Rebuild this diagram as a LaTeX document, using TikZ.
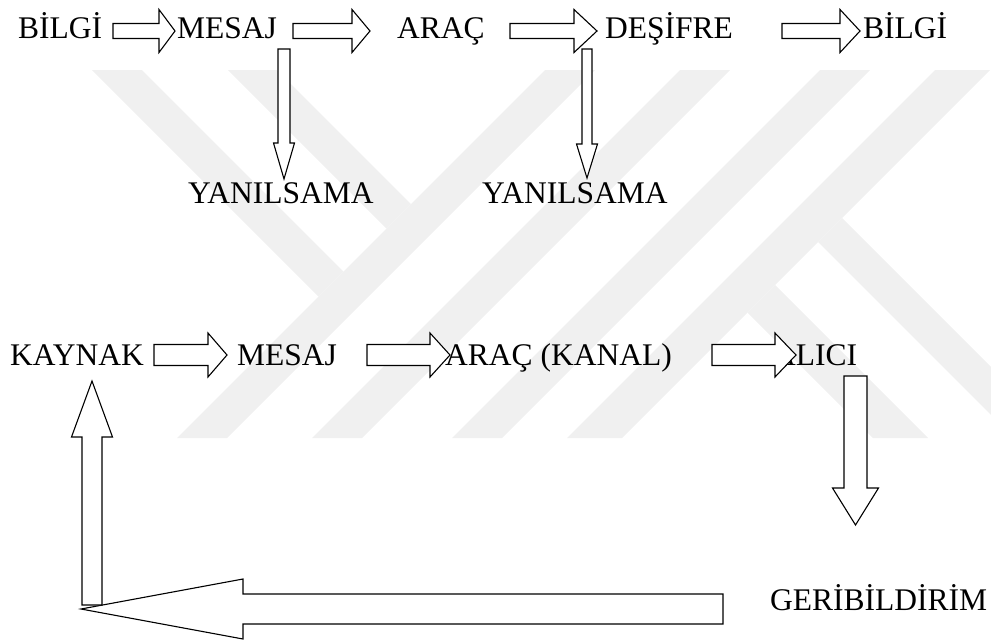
\documentclass[tikz,border=0pt]{standalone}
\usepackage{fontspec}
\setmainfont{Liberation Serif}
\usetikzlibrary{calc}

\begin{document}
\begin{tikzpicture}
[
x=1pt,y=-1pt,
lbl/.style={anchor=base west,inner sep=0pt,font=\fontsize{31.5}{36}\selectfont},
wmark/.style={fill=black!6},
blockarrow/.style n args={3}{% shaft half width, head half width, head length
            draw,fill=white,line width=1.1pt,line join=miter,
            to path={
                        ($(\tikztotarget)!#3!(\tikztostart)$) coordinate (bh)
                        ($(\tikztostart)!#1!90:(\tikztotarget)$) -- ($(bh)!#1!90:(\tikztotarget)$)
                        -- ($(bh)!#2!90:(\tikztotarget)$) -- (\tikztotarget)
                        -- ($(bh)!#2!-90:(\tikztotarget)$) -- ($(bh)!#1!-90:(\tikztotarget)$)
                        -- ($(\tikztostart)!#1!-90:(\tikztotarget)$) -- cycle
            }
},
]
\useasboundingbox (0,0) rectangle (991,641);

%Watermark
\fill[wmark] (92,70) -- (142,70) -- (343.5,271.5) -- (318.5,296.5) -- cycle;
\fill[wmark] (228,70) -- (277,70) -- (411,204) -- (386.5,228.5) -- cycle;
\fill[wmark] (545,70) -- (595,70) -- (227,438) -- (177,438) -- cycle;
\fill[wmark] (680,70) -- (730,70) -- (362,438) -- (312,438) -- cycle;
\fill[wmark] (820,70) -- (870,70) -- (502,438) -- (452,438) -- cycle;
\fill[wmark] (935,70) -- (990,70) -- (622,438) -- (567,438) -- cycle;
\fill[wmark] (842,218) -- (991,367) -- (991,415) -- (818,242) -- cycle;
\fill[wmark] (775,285) -- (928,438) -- (873,438) -- (747.5,312.5) -- cycle;

%Place the nodes
\node[lbl] (bilgiA) at (18,38.5) {BİLGİ};
\node[lbl] (mesajA) at (177,38.5) {MESAJ};
\node[lbl] (aracA) at (397,38.5) {ARAÇ};
\node[lbl] (desifre) at (605,38.5) {DEŞİFRE};
\node[lbl] (bilgiB) at (863,38.5) {BİLGİ};
\node[lbl] (yanilsamaA) at (188,203) {YANILSAMA};
\node[lbl] (yanilsamaB) at (482,203) {YANILSAMA};
\node[lbl] (kaynak) at (10,365) {KAYNAK};
\node[lbl] (mesajB) at (237,365) {MESAJ};
\node[lbl] (kanal) at (445,365) {ARAÇ (KANAL)};
\node[lbl] (alici) at (773,365) {ALICI};
\node[lbl] (geri) at (770,610) {GERİBİLDİRİM};

%Arrow ends
\coordinate (r1a) at (113,31);
\coordinate (r1b) at (175,31);
\coordinate (r2a) at (293,31);
\coordinate (r2b) at (370,31);
\coordinate (r3a) at (510,31);
\coordinate (r3b) at (597,31);
\coordinate (r4a) at (782,31);
\coordinate (r4b) at (860,31);
\coordinate (d1a) at (284,49);
\coordinate (d1b) at (284,179);
\coordinate (d2a) at (587,49);
\coordinate (d2b) at (587,178);
\coordinate (k1a) at (154,355);
\coordinate (k1b) at (227,355);
\coordinate (k2a) at (367,355);
\coordinate (k2b) at (450,355);
\coordinate (k3a) at (712,355);
\coordinate (k3b) at (796,355);
\coordinate (fa) at (855.5,376);
\coordinate (fb) at (855.5,525);
\coordinate (ga) at (723,609);
\coordinate (gb) at (81,609);
\coordinate (ua) at (92,605);
\coordinate (ub) at (92,381);

%Draw the connections
\draw[blockarrow={7.5pt}{21.5pt}{16pt}] (r1a) to (r1b);
\draw[blockarrow={7.5pt}{21.5pt}{18pt}] (r2a) to (r2b);
\draw[blockarrow={7.5pt}{21.5pt}{23pt}] (r3a) to (r3b);
\draw[blockarrow={7.5pt}{21.5pt}{20pt}] (r4a) to (r4b);
\draw[blockarrow={6pt}{10.5pt}{36pt}] (d1a) to (d1b);
\draw[blockarrow={5pt}{10.5pt}{34pt}] (d2a) to (d2b);
\draw[blockarrow={10.5pt}{22pt}{19pt}] (k1a) to (k1b);
\draw[blockarrow={10.5pt}{22pt}{20pt}] (k2a) to (k2b);
\draw[blockarrow={10.5pt}{22pt}{21pt}] (k3a) to (k3b);
\draw[blockarrow={11.5pt}{23pt}{37pt}] (fa) to (fb);
\draw[blockarrow={15pt}{30pt}{162pt}] (ga) to (gb);
\draw[blockarrow={10pt}{20.5pt}{56pt}] (ua) to (ub);
\end{tikzpicture}
\end{document}
